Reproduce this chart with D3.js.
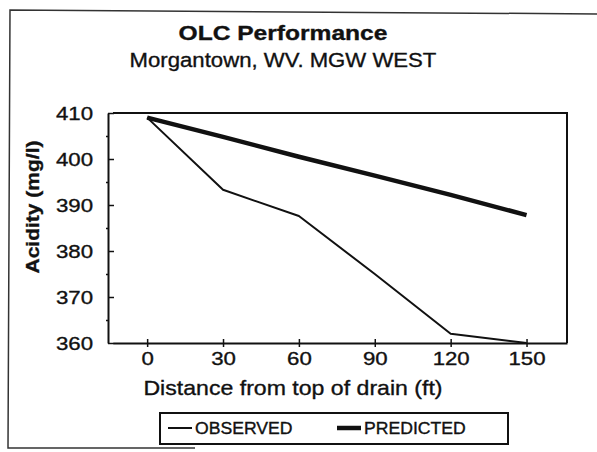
<!DOCTYPE html>
<html>
<head>
<meta charset="utf-8">
<script src="https://cdn.jsdelivr.net/npm/d3@7"></script>
<style>
  html, body { margin: 0; padding: 0; background: #fff; }
  svg { display: block; font-family: 'Liberation Sans', Arial, sans-serif; }
  text { stroke: #111; stroke-width: 0.35px; }
</style>
</head>
<body>
<div id="chart"></div>
<script>
// values
const distances = [0, 30, 60, 90, 120, 150]
const observed = [409, 393.3, 387.6, 375, 362, 360]
const predicted = [409, 404.8, 400.5, 396.4, 392.2, 387.8]
const xTicks = [0, 30, 60, 90, 120, 150]
const yTicks = [360, 370, 380, 390, 400, 410]
const yMinorTicks = [365, 375, 385, 395, 405]
const seriesNames = ['OBSERVED', 'PREDICTED']

const width = 597, height = 452
const margin = {top: 113, right: 30, bottom: 109, left: 113}
const innerWidth = width - margin.left - margin.right,
      innerHeight = height - margin.top - margin.bottom
const ink = '#111'
const fontFamily = "'Liberation Sans', Arial, sans-serif"

// the scan is a bit wider than tall, so widen the glyphs a little
const stretch = k => (d, i, nodes) => {
  let node = nodes[i]
  node.setAttribute('textLength', node.getComputedTextLength() * k)
  node.setAttribute('lengthAdjust', 'spacingAndGlyphs')
}

let svg = d3.select('#chart').append('svg')
  .attr('width', width)
  .attr('height', height)

// page frame, right side cut off by the scan
svg.append('path')
  .attr('d', `M${width + 5},14 L10,10 L8,448 L195,448`)
  .attr('fill', 'none')
  .attr('stroke', '#333')
  .attr('stroke-width', 1.5)

svg.append('text')
  .attr('x', 283).attr('y', 40)
  .attr('text-anchor', 'middle')
  .style('font-size', '21px')
  .style('font-weight', 'bold')
  .attr('fill', ink)
  .text('OLC Performance')
  .each(stretch(1.17))

svg.append('text')
  .attr('x', 283).attr('y', 67)
  .attr('text-anchor', 'middle')
  .style('font-size', '20.5px')
  .attr('fill', ink)
  .text('Morgantown, WV. MGW WEST')
  .each(stretch(1.08))

let x = d3.scaleLinear().domain([-13.5, 166]).range([0, innerWidth])
let y = d3.scaleLinear().domain([360, 410]).range([innerHeight, 0])

let g = svg.append('g').attr('transform', `translate(${margin.left}, ${margin.top})`)

// top and right edges of the plot box
g.append('path')
  .attr('d', `M0,0 H${innerWidth} V${innerHeight}`)
  .attr('fill', 'none')
  .attr('stroke', ink)
  .attr('stroke-width', 2)

let axisBottom = g.append('g')
  .attr('transform', `translate(0, ${innerHeight})`)
  .call(d3.axisBottom(x).tickValues(xTicks).tickSizeInner(4).tickSizeOuter(0).tickPadding(5))
axisBottom.selectAll('.tick line').attr('y1', -4)

let axisLeft = g.append('g')
  .attr('transform', 'translate(-5, 0)')
  .call(d3.axisLeft(y).tickValues(yTicks).tickSizeInner(-6).tickSizeOuter(0).tickPadding(15))

g.append('g')
  .attr('transform', 'translate(-5, 0)')
  .call(d3.axisLeft(y).tickValues(yMinorTicks).tickSize(2).tickFormat(''))
  .call(a => a.select('.domain').remove())

g.selectAll('.domain').attr('stroke', ink).attr('stroke-width', 2)
g.selectAll('.tick line').attr('stroke', ink).attr('stroke-width', 1.5)
g.selectAll('g').attr('font-family', fontFamily).attr('font-size', 19)
g.selectAll('.tick text')
  .attr('fill', ink)
  .each(stretch(1.17))

let line = d3.line()
  .x((d, i) => x(distances[i]))
  .y(d => y(d))

g.append('path')
  .datum(observed)
  .attr('d', line)
  .attr('fill', 'none')
  .attr('stroke', ink)
  .attr('stroke-width', 2)
  .attr('stroke-linejoin', 'round')

g.append('path')
  .datum(predicted)
  .attr('d', line)
  .attr('fill', 'none')
  .attr('stroke', ink)
  .attr('stroke-width', 4.5)
  .attr('stroke-linejoin', 'round')

svg.append('text')
  .attr('transform', 'translate(39, 207) rotate(-90)')
  .attr('text-anchor', 'middle')
  .style('font-size', '17.5px')
  .style('font-weight', 'bold')
  .attr('fill', ink)
  .text('Acidity (mg/l)')
  .each(stretch(1.2))

svg.append('text')
  .attr('x', 293).attr('y', 395)
  .attr('text-anchor', 'middle')
  .style('font-size', '21px')
  .attr('fill', ink)
  .text('Distance from top of drain (ft)')
  .each(stretch(1.1))

/** legend **/
let legend = svg.append('g').attr('transform', 'translate(160, 413)')
legend.append('rect')
  .attr('width', 348).attr('height', 31)
  .attr('fill', 'none')
  .attr('stroke', ink)
  .attr('stroke-width', 2)

let legendWidths = [2, 4.5]
let items = legend.selectAll('.item')
  .data(seriesNames)
  .enter()
  .append('g')
    .attr('class', 'item')
    .attr('transform', (d, i) => `translate(${8 + i * 169}, 15)`)

items.append('line')
  .attr('x1', 0).attr('x2', 24)
  .attr('stroke', ink)
  .attr('stroke-width', (d, i) => legendWidths[i])

items.append('text')
  .attr('x', 27).attr('y', 6)
  .style('font-size', '16px')
  .attr('fill', ink)
  .text(d => d)
  .each(stretch(1.1))
</script>
</body>
</html>
